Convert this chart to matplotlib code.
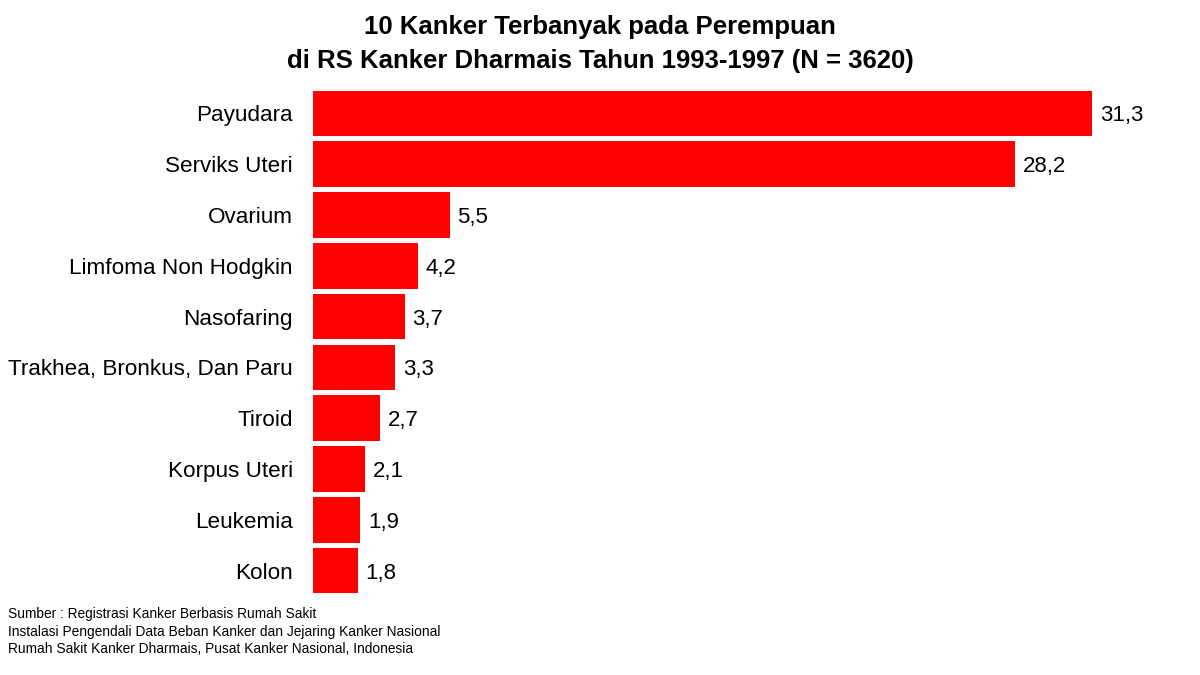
import matplotlib.pyplot as plt

# data
kanker = ["Payudara", "Serviks Uteri", "Ovarium", "Limfoma Non Hodgkin", "Nasofaring",
          "Trakhea, Bronkus, Dan Paru", "Tiroid", "Korpus Uteri", "Leukemia", "Kolon"]
persen = [31.3, 28.2, 5.5, 4.2, 3.7, 3.3, 2.7, 2.1, 1.9, 1.8]

judul = "10 Kanker Terbanyak pada Perempuan\ndi RS Kanker Dharmais Tahun 1993-1997 (N = 3620)"
sumber = ("Sumber : Registrasi Kanker Berbasis Rumah Sakit\n"
          "Instalasi Pengendali Data Beban Kanker dan Jejaring Kanker Nasional\n"
          "Rumah Sakit Kanker Dharmais, Pusat Kanker Nasional, Indonesia")

plt.rcParams['font.family'] = ['Liberation Sans', 'DejaVu Sans']

fig = plt.figure(figsize=(12, 6.75), dpi=100)
# axes placed in pixel terms: left 313, top 88, bottom 596
ax = fig.add_axes([313/1200, 1-596/675, 887/1200, 508/675])

ypos = list(range(len(kanker)))
ax.barh(ypos, persen, height=0.9, color="#ff0000")
ax.set_ylim(len(kanker)-0.5, -0.5)
ax.set_xlim(0, 887/24.9)
ax.set_yticks(ypos)
ax.set_yticklabels(kanker, fontsize=16.2)
ax.tick_params(axis='y', length=0, pad=14.4)
ax.set_xticks([])
for s in ax.spines.values():
    s.set_visible(False)

for y, v in zip(ypos, persen):
    ax.text(v + 0.3, y, f"{v:.1f}".replace(".", ","), va="center_baseline", ha="left", fontsize=16)

fig.text(0.5, 1-44/675, judul, ha="center", va="center", fontsize=18.5,
         fontweight="bold", linespacing=1.5)
fig.text(8/1200, 1-607/675, sumber, ha="left", va="top", fontsize=9.9, linespacing=1.33)

fig.savefig("out.png", dpi=100)
